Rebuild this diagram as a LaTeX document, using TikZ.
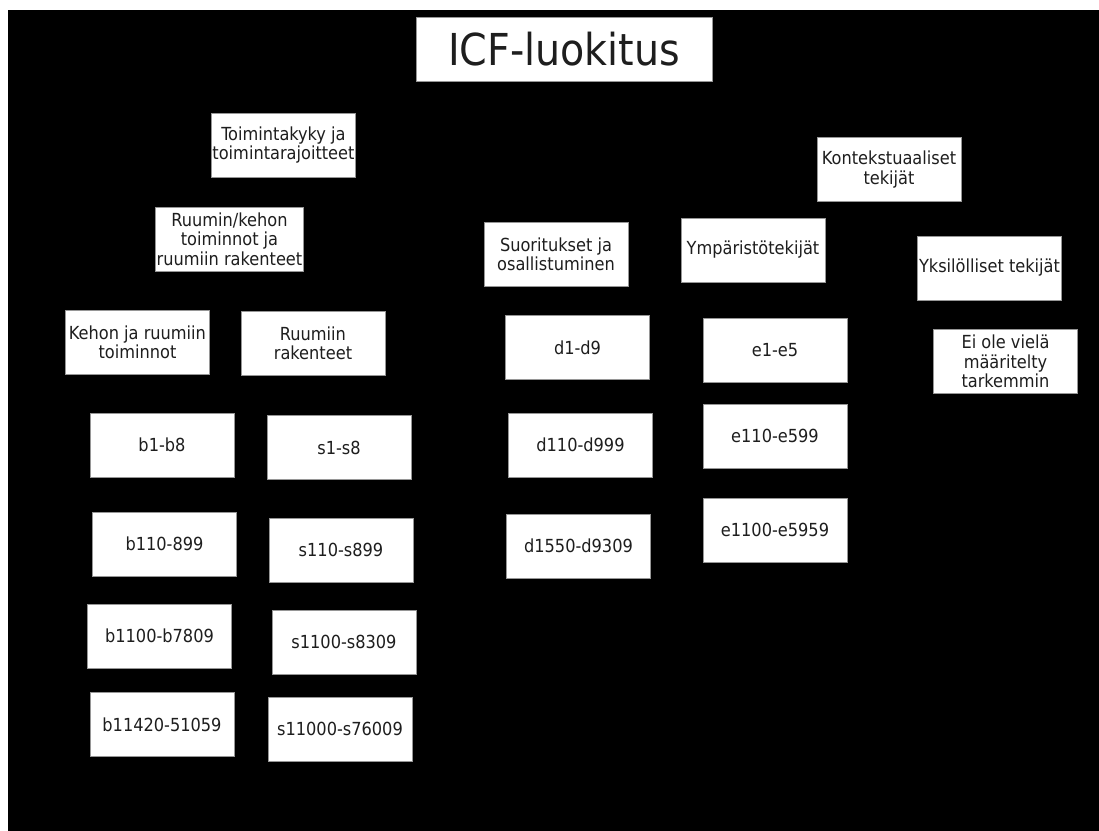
\documentclass[tikz,border=0pt]{standalone}
\usepackage{fontspec}
\setmainfont{DejaVu Sans Condensed}
\usepackage{xcolor}
\usepackage{tikz}
\usetikzlibrary{positioning}
\definecolor{BoxEdge}{RGB}{150,150,150}
\definecolor{BoxText}{RGB}{30,30,30}
\tikzset{
    icfbox/.style={rectangle, draw=BoxEdge, fill=white, line width=0.6pt, text=BoxText,
        minimum width=108pt, minimum height=48pt, inner sep=1pt, align=center,
        font=\fontsize{13.5}{14.5}\selectfont},
    titlebox/.style={icfbox, minimum width=222pt, font=\fontsize{33}{36}\selectfont}
}
\begin{document}
\begin{tikzpicture}[x=0.75pt,y=-0.75pt]
    % tausta
    \fill[white] (0,0) rectangle (1099,831);
    \fill[black] (8,10) rectangle (1099,831);
    \useasboundingbox (0,0) rectangle (1099,831);
    % otsikko
    \node[titlebox] (icf) at (564,49) {ICF-luokitus};
    % toimintakyky
    \node[icfbox] (toim) at (283.5,145) {Toimintakyky ja\\toimintarajoitteet};
    \node[icfbox] (ruumis) at (229.5,239) {Ruumin/kehon\\toiminnot ja\\ruumiin rakenteet};
    \node[icfbox] (kehon) at (137.5,342) {Kehon ja ruumiin\\toiminnot};
    \node[icfbox] (rakenteet) at (313,343) {Ruumiin\\rakenteet};
    \node[icfbox] (b1) at (162,445) {b1-b8};
    \node[icfbox] (b2) at (164.5,544) {b110-899};
    \node[icfbox] (b3) at (159.5,636) {b1100-b7809};
    \node[icfbox] (b4) at (162,724.5) {b11420-51059};
    \node[icfbox] (s1) at (339,447.5) {s1-s8};
    \node[icfbox] (s2) at (341,550) {s110-s899};
    \node[icfbox] (s3) at (344,642) {s1100-s8309};
    \node[icfbox] (s4) at (340,729) {s11000-s76009};
    \node[icfbox] (suor) at (556,254.5) {Suoritukset ja\\osallistuminen};
    \node[icfbox] (d1) at (577.5,347.5) {d1-d9};
    \node[icfbox] (d2) at (580.5,445) {d110-d999};
    \node[icfbox] (d3) at (578.5,546) {d1550-d9309};
    % kontekstuaaliset tekijat
    \node[icfbox] (konteksti) at (889,169.5) {Kontekstuaaliset\\tekijät};
    \node[icfbox] (ymp) at (753,250) {Ympäristötekijät};
    \node[icfbox] (e1) at (775,350) {e1-e5};
    \node[icfbox] (e2) at (775,436) {e110-e599};
    \node[icfbox] (e3) at (775,530) {e1100-e5959};
    \node[icfbox] (yks) at (989.5,268) {Yksilölliset tekijät};
    \node[icfbox] (eiole) at (1005.5,361.5) {Ei ole vielä\\määritelty\\tarkemmin};
\end{tikzpicture}
\end{document}
